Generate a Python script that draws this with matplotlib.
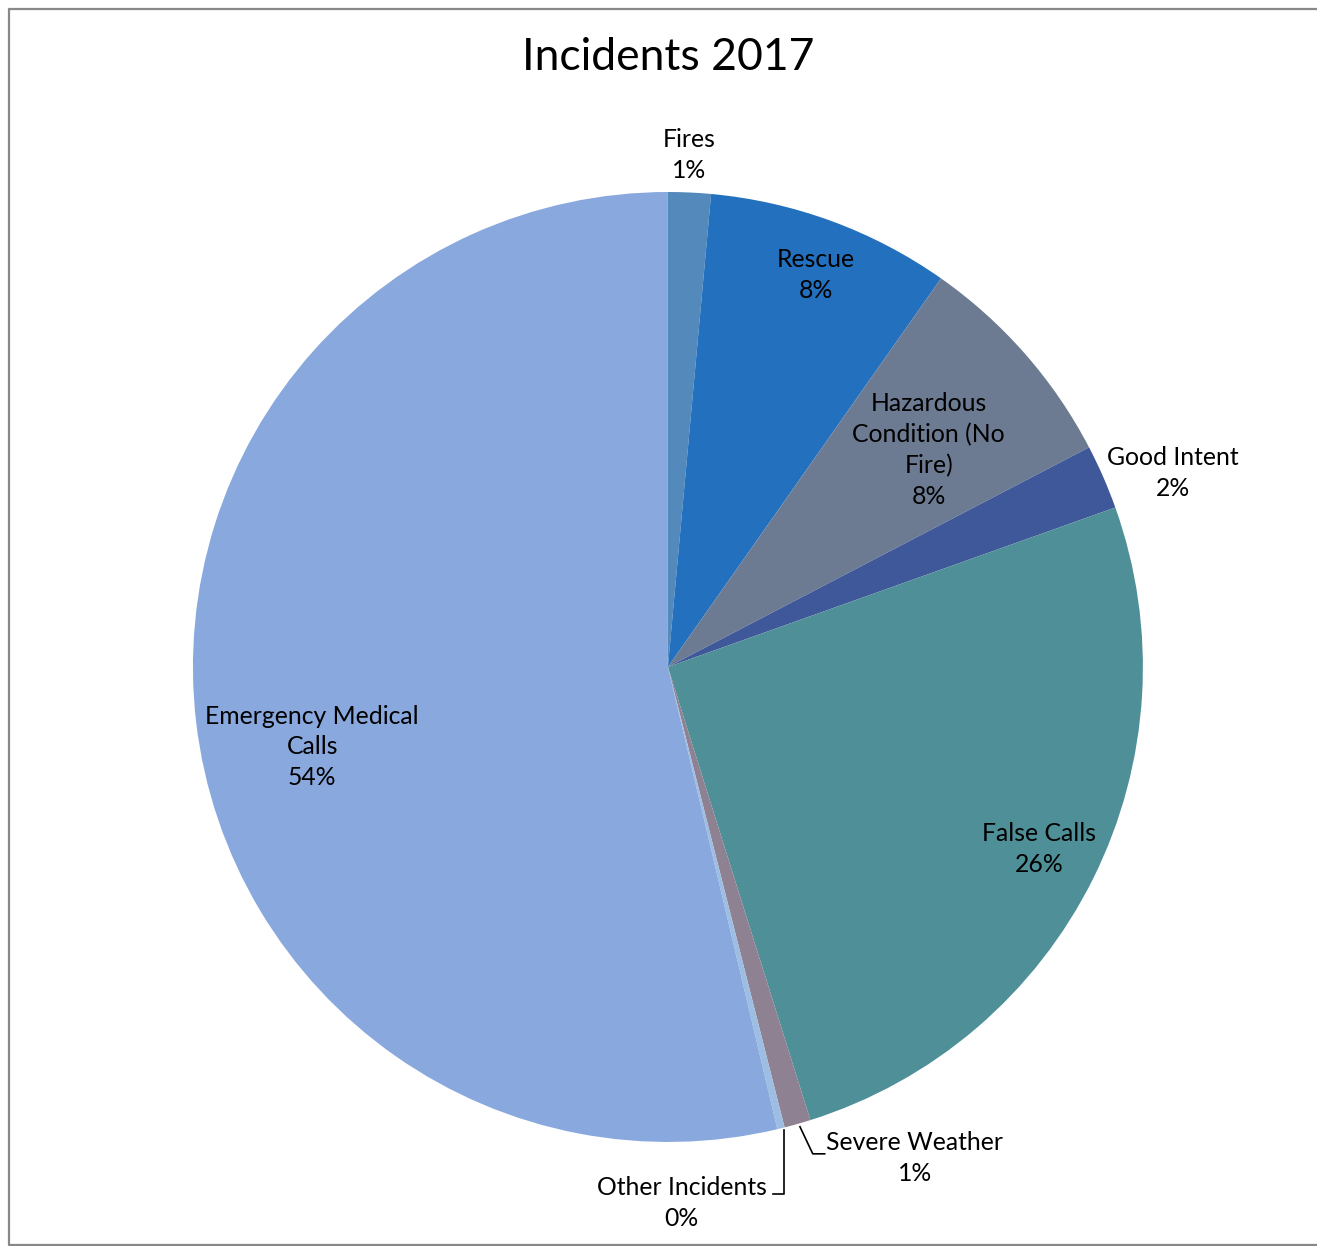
import matplotlib.pyplot as plt
from matplotlib.lines import Line2D

# Incident categories, clockwise from 12 o'clock
categories = ["Fires", "Rescue", "Hazardous\nCondition (No\nFire)", "Good Intent",
              "False Calls", "Severe Weather", "Other Incidents",
              "Emergency Medical\nCalls"]
shares = [1.45, 8.3, 7.6, 2.2, 25.6, 0.9, 0.25, 53.7]
colors = ["#5389BB", "#2370BF", "#6D7B92", "#3F5899",
          "#4F8F98", "#8E8191", "#9DBDE3", "#89A8DE"]

# label anchor points (pie data units)
label_pos = [(0.044, 1.078), (0.312, 0.825), (0.549, 0.457), (1.063, 0.408),
             (0.781, -0.383), (0.52, -1.034), (0.029, -1.128), (-0.749, -0.168)]

plt.rcParams['font.family'] = ['Lato', 'DejaVu Sans']

fig = plt.figure(figsize=(13.17, 12.46), dpi=100)
# chart frame: left, top and bottom edges only (right edge is cut off)
x0, y_top, y_bot = 8.5 / 1317, 1 - 8.5 / 1246, 1.5 / 1246
fig.add_artist(Line2D([1.0, x0, x0, 1.0], [y_top, y_top, y_bot, y_bot],
                      transform=fig.transFigure, color="#888888", linewidth=1.6))

ax = fig.add_axes([0.1465, 0.0835, 0.7213, 0.7624])
ax.pie(shares, colors=colors, startangle=90, counterclock=False,
       wedgeprops=dict(linewidth=0), radius=1)
ax.set_xlim(-1, 1)
ax.set_ylim(-1, 1)
ax.set_aspect('equal')
ax.axis('off')

total = sum(shares)
for name, val, (x, y) in zip(categories, shares, label_pos):
    pct = round(val / total * 100)
    ax.text(x, y, f"{name}\n{pct}%", ha='center', va='center', fontsize=17.8,
            color='black', linespacing=1.4, clip_on=False)

# leader lines for the two thin slices
ax.plot([0.278, 0.305, 0.33], [-0.968, -1.025, -1.025], color='black', lw=1.2, clip_on=False)
ax.plot([0.244, 0.244, 0.221], [-0.975, -1.109, -1.109], color='black', lw=1.2, clip_on=False)

fig.text(0.5072, 1 - 57 / 1246, "Incidents 2017", ha='center', va='center', fontsize=32)

fig.savefig("out.png", dpi=100)
